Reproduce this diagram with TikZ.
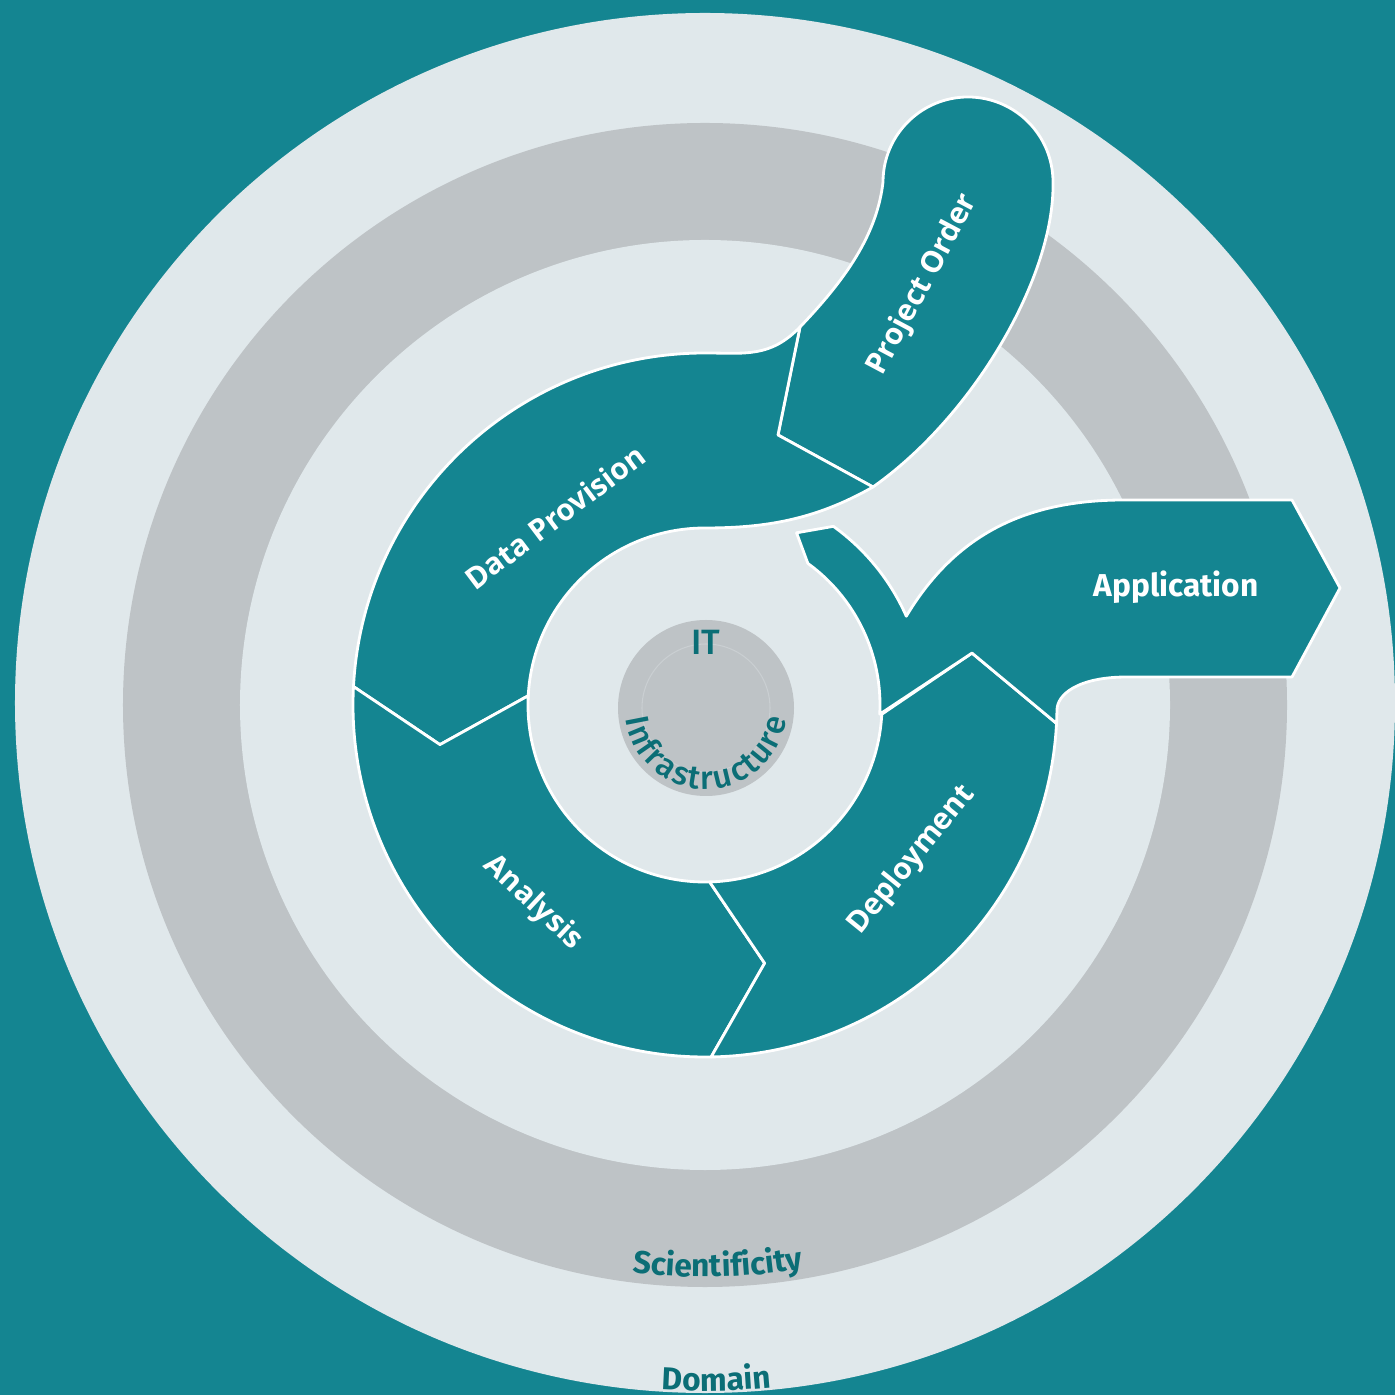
\documentclass[tikz,border=0pt]{standalone}
\usepackage{fontspec}
\newfontfamily\segfont{Open Sans}
\newfontfamily\dinfont{Fira Sans}
\newfontfamily\itfont{Fira Sans}[UprightFont=* Medium]
\usetikzlibrary{decorations.text}

\definecolor{cteal}{HTML}{148591}
\definecolor{clight}{HTML}{E0E8EB}
\definecolor{cgrey}{HTML}{BEC3C6}
\definecolor{cfaint}{HTML}{CACFD2}
\definecolor{cdark}{HTML}{0B6E76}

\newcommand{\infrafont}{\itfont\fontsize{9.3}{10}\selectfont\color{cdark}}
\newcommand{\ringfont}{\dinfont\bfseries\fontsize{9}{10}\selectfont\color{cdark}}

\begin{document}
\begin{tikzpicture}[x=0.01cm,y=0.01cm,
    seg/.style={fill=cteal, draw=white, line width=0.8pt, line join=round},
    seglabel/.style={text=white, font=\segfont\bfseries\fontsize{8.5}{10}\selectfont}]
    % Frame and background rings
    \clip (-705,-690) rectangle (690,705);
    \fill[cteal] (-705,-690) rectangle (690,705);
    \fill[clight] (0,2) circle (690);
    \fill[cgrey] (0,0) circle (582);
    \fill[clight] (0,0) circle (465);

    % Project Order
    \draw[seg] (95,378) .. controls (140,425) and (172,470) .. (178,523)
        arc[start angle=180, end angle=0, radius=85]
        .. controls (350,430) and (270,290) .. (168,218) -- (73,270) -- cycle;

    % Data Provision
    \draw[seg] (95,378) -- (73,270) -- (168,218)
        .. controls (110,185) and (60,177) .. (0,177)
        arc[start angle=90, end angle=177, radius=177]
        -- (188.5:268) -- (177:352)
        arc[start angle=177, end angle=90, radius=352]
        .. controls (40,352) and (65,347) .. (95,378) -- cycle;

    % Analysis
    \draw[seg] (177:177) arc[start angle=177, end angle=271.5, radius=177]
        -- (283:265) -- (271:352)
        arc[start angle=271, end angle=177, radius=352]
        -- (188.5:268) -- cycle;

    % Deployment
    \draw[seg] (271.5:177) arc[start angle=271.5, end angle=357, radius=177]
        -- (11:272) -- (357:352)
        arc[start angle=357, end angle=271, radius=352]
        -- (283:265) -- cycle;

    % Application
    \draw[seg] (357:175) arc[start angle=357, end angle=414, radius=175]
        -- (62:195) -- (54.3:220)
        arc[start angle=54.3, end angle=23.8, radius=220]
        .. controls (250,170) and (320,205) .. (419,205)
        -- (587,205) -- (635,117) -- (587,28) -- (422,28)
        .. controls (372,28) and (352,10) .. (352,-5)
        -- (357:352) -- (11:272) -- cycle;

    % IT core
    \fill[cgrey] (1,-3) circle (88);
    \draw[cfaint, line width=0.3pt] (1,-3) circle (64);
    \node[anchor=base, text=cdark, font=\itfont\fontsize{10}{10}\selectfont] (it) at (1,50) {IT};
    \path[decorate, decoration={text along path, text align=center, raise=-2.6pt,
        text={|\infrafont|Infrastructure}}]
        (1,-3) ++(185:72) arc[start angle=185, end angle=355, radius=72];

    % Ring labels
    \path[decorate, decoration={text along path, text align=center,
        text={|\ringfont|Scientificity}}]
        (-118.7:572) arc[start angle=-118.7, end angle=-58.7, radius=572];
    \path[decorate, decoration={text along path, text align=center,
        text={|\ringfont|Domain}}]
        (-104:686) arc[start angle=-104, end angle=-74, radius=686];

    % Segment labels
    \node[seglabel, rotate=37] (dataprov) at (-150,188) {Data Provision};
    \node[seglabel, rotate=62] (projorder) at (218,420) {Project Order};
    \node[seglabel, rotate=-43] (analysis) at (-172,-198) {Analysis};
    \node[seglabel, rotate=51] (deployment) at (207,-155) {Deployment};
    \node[seglabel, font=\dinfont\bfseries\fontsize{9}{10}\selectfont] (application) at (471,118) {Application};
\end{tikzpicture}
\end{document}
